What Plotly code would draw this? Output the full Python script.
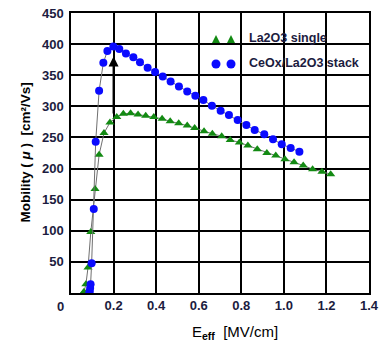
import plotly.graph_objects as go

# CeOx/La2O3 stack (blue circles)
stack_x = [0.086, 0.088, 0.090, 0.092, 0.097, 0.107, 0.116, 0.132, 0.152, 0.171, 0.199, 0.227,
           0.258, 0.293, 0.324, 0.360, 0.395, 0.431, 0.468, 0.507, 0.546, 0.584, 0.622, 0.662,
           0.703, 0.742, 0.783, 0.824, 0.863, 0.908, 0.949, 0.990, 1.032, 1.073]
stack_y = [0, 3, 8, 14, 48, 135, 243, 325, 370, 389, 396, 392,
           385, 379, 371, 362, 355, 348, 340, 332, 324, 317, 310, 301,
           293, 286, 278, 270, 262, 255, 247, 239, 233, 227]

# La2O3 single (green triangles)
single_x = [0.058, 0.061, 0.070, 0.080, 0.093, 0.113, 0.132, 0.155, 0.183, 0.215, 0.246, 0.280,
            0.315, 0.351, 0.389, 0.428, 0.466, 0.506, 0.546, 0.581, 0.625, 0.664, 0.708, 0.748,
            0.791, 0.831, 0.875, 0.920, 0.962, 1.005, 1.048, 1.091, 1.135, 1.179, 1.220]
single_y = [0, 2, 14, 41, 98, 167, 222, 257, 274, 283, 288, 289,
            287, 285, 283, 280, 276, 273, 269, 265, 260, 256, 252, 246,
            242, 237, 231, 225, 221, 215, 210, 205, 199, 195, 191]

x_ticks = [0.2, 0.4, 0.6, 0.8, 1.0, 1.2, 1.4]
x_tick_text = ["0.2", "0.4", "0.6", "0.8", "1.0", "1.2", "1.4"]
y_ticks = [50, 100, 150, 200, 250, 300, 350, 400, 450]

arrow_x = 0.2
arrow_from = 286
arrow_to = 380

legend_labels = ["La2O3 single", "CeOx/La2O3 stack"]

green = "#138a13"
blue = "#0a0aff"
label_col = "#1c1c40"
font_family = "Liberation Sans, Arial, sans-serif"

W, H = 383, 344
ML, MR, MT, MB = 71, 14, 13, 51
PW, PH = W - ML - MR, H - MT - MB


def px(xp):
    return (xp - ML) / PW


def py(yp):
    return (H - MB - yp) / PH


fig = go.Figure()
fig.add_trace(go.Scatter(
    x=single_x, y=single_y, mode="lines+markers", name=legend_labels[0],
    line=dict(color="#707070", width=1),
    marker=dict(symbol="triangle-up", size=8, color=green),
    showlegend=False))
fig.add_trace(go.Scatter(
    x=stack_x, y=stack_y, mode="lines+markers", name=legend_labels[1],
    line=dict(color="#707070", width=1),
    marker=dict(symbol="circle", size=8, color=blue),
    showlegend=False))

# arrow
fig.add_annotation(x=arrow_x, y=arrow_to, ax=arrow_x, ay=arrow_from,
                   xref="x", yref="y", axref="x", ayref="y",
                   showarrow=True, arrowhead=2, arrowsize=1, arrowwidth=2,
                   arrowcolor="black", text="")

# legend symbols (two per entry, as in the original)
for cx in (216, 231):
    fig.add_shape(type="path", xref="paper", yref="paper",
                  path="M %f %f L %f %f L %f %f Z" % (px(cx - 4), py(43), px(cx + 4), py(43), px(cx), py(35)),
                  fillcolor=green, line=dict(width=0))
    fig.add_shape(type="circle", xref="paper", yref="paper",
                  x0=px(cx - 4.5), x1=px(cx + 4.5), y0=py(68.5), y1=py(59.5),
                  fillcolor=blue, line=dict(width=0))

fig.add_annotation(x=px(249), y=py(38), xref="paper", yref="paper", text="<b>" + legend_labels[0] + "</b>",
                   showarrow=False, xanchor="left", yanchor="middle", xshift=-2,
                   font=dict(color=label_col, size=12.5, family=font_family))
fig.add_annotation(x=px(249), y=py(63), xref="paper", yref="paper", text="<b>" + legend_labels[1] + "</b>",
                   showarrow=False, xanchor="left", yanchor="middle", xshift=-2,
                   font=dict(color=label_col, size=12.5, family=font_family))

# separate "0" tick label at origin
fig.add_annotation(x=px(60), y=py(306), xref="paper", yref="paper", text="<b>0</b>",
                   showarrow=False, xanchor="center", yanchor="middle",
                   font=dict(color=label_col, size=13, family=font_family))

# axis titles
fig.add_annotation(x=px(25), y=py(152.5), xref="paper", yref="paper",
                   text="<b>Mobility ( <i>μ</i> )  [cm²/Vs]</b>", textangle=-90,
                   showarrow=False, xanchor="center", yanchor="middle",
                   font=dict(color="black", size=13.5, family=font_family))
fig.add_annotation(x=px(235), y=py(332), xref="paper", yref="paper",
                   text="E<sub><b>eff</b></sub>  [MV/cm]",
                   showarrow=False, xanchor="center", yanchor="middle",
                   font=dict(color="black", size=15, family=font_family))

fig.update_layout(
    width=W, height=H,
    margin=dict(l=ML, r=MR, t=MT, b=MB, autoexpand=False),
    paper_bgcolor="white", plot_bgcolor="white",
    font=dict(family=font_family, color="black"),
    xaxis=dict(range=[0, 1.4], tickvals=x_ticks, ticktext=["<b>%s</b>" % t for t in x_tick_text],
               showgrid=True, gridcolor="black", gridwidth=1.5, automargin=False,
               showline=True, linecolor="black", linewidth=1.5, mirror=True,
               zeroline=False, ticks="", 
               ticklabeloverflow="allow",
               tickfont=dict(size=13, color=label_col)),
    yaxis=dict(range=[0, 450], tickvals=y_ticks, ticktext=["<b>%d</b>" % v for v in y_ticks],
               showgrid=True, gridcolor="black", gridwidth=1.5, automargin=False,
               showline=True, linecolor="black", linewidth=1.5, mirror=True,
               zeroline=False, ticks="outside", ticklen=3, tickcolor="rgba(0,0,0,0)",
               ticklabeloverflow="allow",
               tickfont=dict(size=13, color=label_col)),
)

# remove the browser's default 8px page margin so the figure fills the window
fig.write_html("out.html", config={"displayModeBar": False},
               post_script="document.body.style.margin='0';document.body.style.overflow='hidden';")
